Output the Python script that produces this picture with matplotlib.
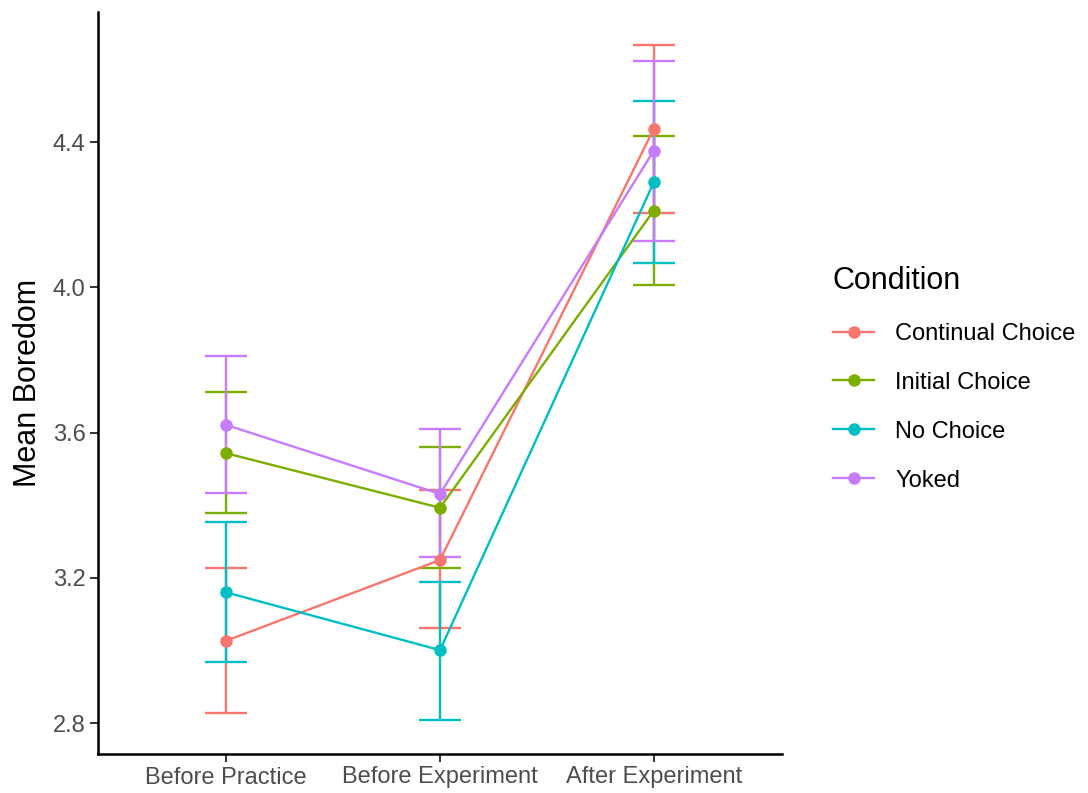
import matplotlib
matplotlib.use("Agg")
import matplotlib.pyplot as plt
from matplotlib.lines import Line2D

plt.rcParams['font.family'] = ['Liberation Sans', 'DejaVu Sans']

stages = ["Before Practice", "Before Experiment", "After Experiment"]
conditions = ["Continual Choice", "Initial Choice", "No Choice", "Yoked"]
colors = ["#F8766D", "#7CAE00", "#00BFC4", "#C77CFF"]

mean_continual = [3.027, 3.249, 4.436]
mean_initial = [3.543, 3.393, 4.211]
mean_nochoice = [3.160, 3.001, 4.289]
mean_yoked = [3.621, 3.431, 4.376]

upper_continual = [3.226, 3.442, 4.667]
upper_initial = [3.712, 3.561, 4.417]
upper_nochoice = [3.353, 3.189, 4.513]
upper_yoked = [3.811, 3.609, 4.624]

lower_continual = [2.828, 3.062, 4.204]
lower_initial = [3.378, 3.226, 4.006]
lower_nochoice = [2.969, 2.808, 4.066]
lower_yoked = [3.434, 3.258, 4.128]

means = [mean_continual, mean_initial, mean_nochoice, mean_yoked]
uppers = [upper_continual, upper_initial, upper_nochoice, upper_yoked]
lowers = [lower_continual, lower_initial, lower_nochoice, lower_yoked]

fig = plt.figure(figsize=(10.88, 7.93), dpi=100)
ax = fig.add_axes([98/1088, 1-754/793, (782-98)/1088, (754-12)/793])

xs = [1, 2, 3]
lw = 1.7
for m, u, l, c in zip(means, uppers, lowers, colors):
    ax.plot(xs, m, color=c, lw=lw, zorder=3)
    yerr = [[mi - li for mi, li in zip(m, l)], [ui - mi for mi, ui in zip(m, u)]]
    ax.errorbar(xs, m, yerr=yerr, fmt='none', ecolor=c, elinewidth=lw,
                capsize=15, capthick=lw, zorder=2)
    ax.plot(xs, m, 'o', color=c, ms=9, zorder=4, markeredgewidth=0)

ax.set_xlim(0.4, 3.6)
ax.set_ylim(2.715, 4.758)
ax.set_xticks(xs)
ax.set_xticklabels(stages)
ax.set_yticks([2.8, 3.2, 3.6, 4.0, 4.4])
ax.set_yticklabels(["2.8", "3.2", "3.6", "4.0", "4.4"])
ax.tick_params(axis='both', labelsize=17, colors='#333333', labelcolor='#4D4D4D',
               length=6, width=1.4, direction='out', pad=3)
for s in ['top', 'right']:
    ax.spines[s].set_visible(False)
for s in ['left', 'bottom']:
    ax.spines[s].set_linewidth(1.8)
    ax.spines[s].set_color('black')
ax.set_ylabel("Mean Boredom", fontsize=22, labelpad=7)

handles = [Line2D([0], [0], color=c, lw=lw, marker='o', ms=9, markeredgewidth=0)
           for c in colors]
leg = fig.legend(handles, conditions, title="Condition", loc='upper left',
                 bbox_to_anchor=(814/1088, 1-247/793), frameon=False,
                 fontsize=17, title_fontsize=22, handlelength=1.75,
                 labelspacing=1.14, handletextpad=0.9, alignment='left',
                 borderaxespad=0.2, borderpad=0.6)

fig.savefig("out.png", dpi=100, facecolor='white')
